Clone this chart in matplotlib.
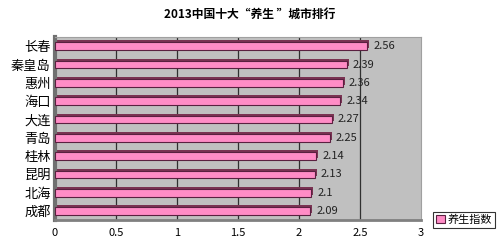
import numpy as np
import matplotlib.pyplot as plt
from matplotlib.transforms import offset_copy

plt.rcParams['font.family'] = ['Noto Sans CJK SC', 'DejaVu Sans']

cities = ['长春', '秦皇岛', '惠州', '海口', '大连', '青岛', '桂林', '昆明', '北海', '成都']
scores = [2.56, 2.39, 2.36, 2.34, 2.27, 2.25, 2.14, 2.13, 2.1, 2.09]
xticks = [0, 0.5, 1, 1.5, 2, 2.5, 3]
xticklabels = ['0', '0.5', '1', '1.5', '2', '2.5', '3']

fig = plt.figure(figsize=(5, 2.49), dpi=100)
ax = fig.add_axes([0.11, 0.116, 0.732, 0.735])
ax.set_facecolor('#c0c0c0')

y = np.arange(len(cities))

# vertical gridlines on the back wall
for t in xticks[1:-1]:
    ax.axvline(t, color='#303030', lw=0.9, zorder=1)

# 3D-ish depth: dark shadow bar shifted up/right
shadow = offset_copy(ax.transData, fig=fig, x=2, y=2, units='dots')
ax.barh(y, scores, height=0.42, color='#7a3352', transform=shadow, zorder=2)
ax.barh(y, scores, height=0.42, color='#ff8cc6', edgecolor='#5a2040',
        linewidth=0.8, zorder=3, label='养生指数')

for yi, v in zip(y, scores):
    ax.text(v + 0.05, yi, str(v), va='center', ha='left', fontsize=8,
            color='#222222', zorder=4)

ax.set_xlim(0, 3)
ax.set_ylim(len(cities) - 0.5, -0.5)
ax.set_yticks(y)
ax.set_yticklabels(cities, fontsize=9.5)
ax.set_xticks(xticks)
ax.set_xticklabels(xticklabels, fontsize=8)
ax.tick_params(axis='y', length=0, pad=3)
ax.tick_params(axis='x', length=0, pad=6)

for s in ['top', 'right']:
    ax.spines[s].set_color('#a0a0a0')
    ax.spines[s].set_linewidth(0.8)
ax.spines['left'].set_color('#707070')
ax.spines['left'].set_linewidth(3)
ax.spines['bottom'].set_color('#808080')
ax.spines['bottom'].set_linewidth(2)

fig.suptitle('2013中国十大“养生 ”城市排行', fontsize=8.5, fontweight='bold',
             x=0.5, y=0.97)

leg = fig.legend(loc='center left', bbox_to_anchor=(0.866, 0.118), fontsize=8,
                 frameon=True, fancybox=False, edgecolor='black',
                 handlelength=0.8, handleheight=0.8, handletextpad=0.3,
                 borderpad=0.25, borderaxespad=0)
leg.get_frame().set_linewidth(0.8)

fig.savefig('out.png', dpi=100)
